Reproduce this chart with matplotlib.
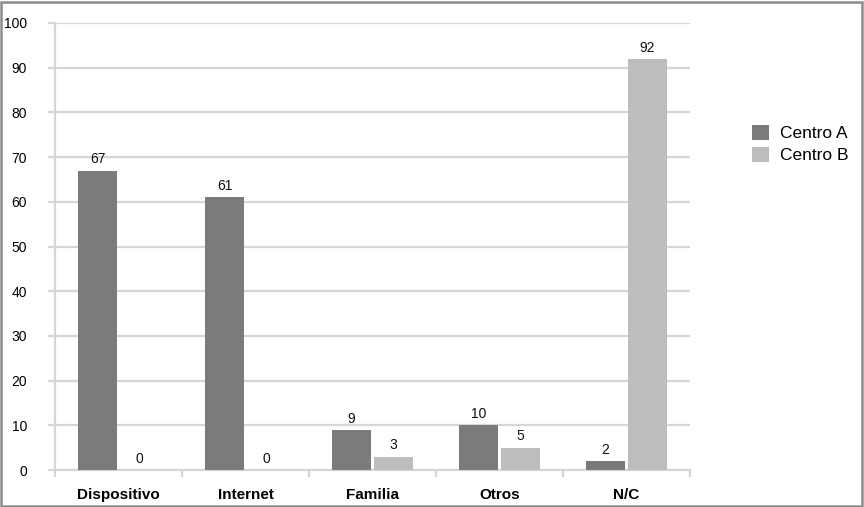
import matplotlib
matplotlib.use("Agg")
import matplotlib.pyplot as plt
from matplotlib.patches import Rectangle
import numpy as np

plt.rcParams['font.family'] = ['Liberation Sans', 'DejaVu Sans']

categorias = ['Dispositivo', 'Internet', 'Familia', 'Otros', 'N/C']
centro_a = [67, 61, 9, 10, 2]
centro_b = [0, 0, 3, 5, 92]
series = ['Centro A', 'Centro B']

color_a = '#7b7b7b'
color_b = '#bdbdbd'
grid_col = '#d6d6d6'

fig = plt.figure(figsize=(8.64, 5.07), dpi=100)
ax = fig.add_axes([55 / 864, 37 / 507, 635 / 864, 447 / 507])

x = np.arange(len(categorias))
w = 0.307
off = 0.165
bars_a = ax.bar(x - off, centro_a, w, color=color_a, label=series[0], zorder=3)
bars_b = ax.bar(x + off, centro_b, w, color=color_b, label=series[1], zorder=3)

# etiquetas de valor sobre cada barra
for bars in (bars_a, bars_b):
    for b in bars:
        h = b.get_height()
        ax.annotate(f'{h:g}', (b.get_x() + b.get_width() / 2, h),
                    xytext=(0, 3), textcoords='offset points',
                    ha='center', va='bottom', fontsize=10, color='#111111')

ax.set_ylim(0, 100)
ax.set_xlim(-0.5, len(categorias) - 0.5)
ax.set_yticks(range(0, 101, 10))
ax.yaxis.grid(True, color=grid_col, linewidth=1.6, zorder=0)
ax.set_axisbelow(True)

ax.set_xticks(x)
ax.set_xticklabels(categorias, fontsize=11, fontweight='bold')
ax.set_xticks(np.arange(-0.5, len(categorias)), minor=True)
ax.tick_params(axis='x', which='major', length=0, pad=13)
ax.tick_params(axis='x', which='minor', length=5, width=1.6, color=grid_col)
ax.tick_params(axis='y', length=5, width=1.6, color=grid_col, pad=15, labelsize=10)

for s in ('top', 'right'):
    ax.spines[s].set_visible(False)
for s in ('left', 'bottom'):
    ax.spines[s].set_color(grid_col)
    ax.spines[s].set_linewidth(1.6)

fig.legend(loc='upper left', bbox_to_anchor=(745 / 864, 1 - 118 / 507),
           frameon=False, fontsize=12.5, handlelength=1.0, handleheight=0.95,
           handletextpad=0.6, labelspacing=0.3, borderaxespad=0)

# marco exterior
fig.patches.append(Rectangle((0.001, 0.002), 0.997, 0.995, transform=fig.transFigure,
                             fill=False, edgecolor='#8c8c8c', linewidth=1.8))

fig.savefig('out.png', dpi=100)
